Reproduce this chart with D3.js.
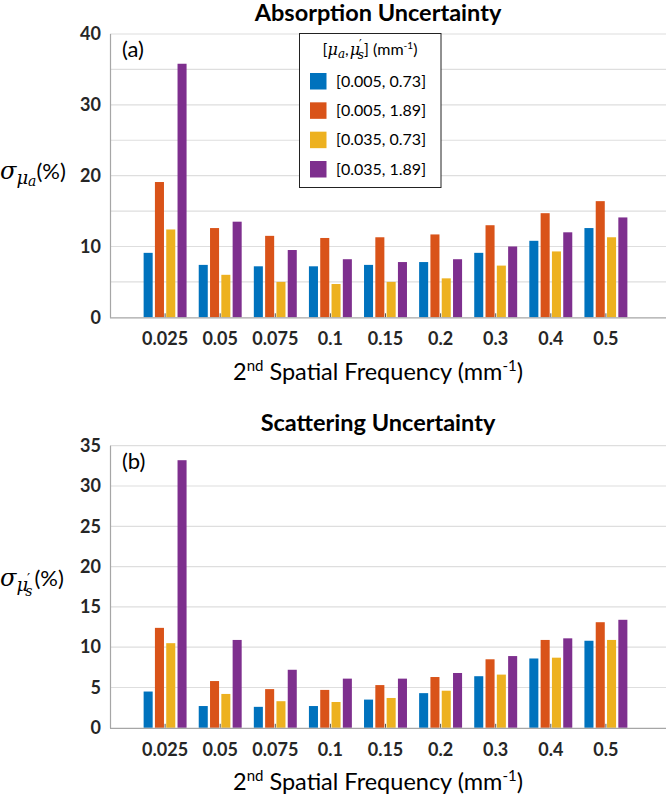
<!DOCTYPE html>
<html>
<head>
<meta charset="utf-8">
<script src="https://cdn.jsdelivr.net/npm/d3@7"></script>
<style>
  html, body { margin: 0; padding: 0; background: #fff; }
  svg { display: block; }
</style>
</head>
<body>
<svg id="chart" width="666" height="794"></svg>
<script>
// ---------- DATA ----------
const frequencies = ["0.025", "0.05", "0.075", "0.1", "0.15", "0.2", "0.3", "0.4", "0.5"];
const seriesLabels = ["[0.005, 0.73]", "[0.005, 1.89]", "[0.035, 0.73]", "[0.035, 1.89]"];
const seriesColors = ["#0072BD", "#D95319", "#EDB120", "#7E2F8E"];

// Absorption uncertainty (%)
const absorption_005_073 = [9.1, 7.4, 7.2, 7.2, 7.4, 7.8, 9.1, 10.8, 12.6];
const absorption_005_189 = [19.1, 12.6, 11.5, 11.2, 11.3, 11.7, 13.0, 14.7, 16.4];
const absorption_035_073 = [12.4, 6.0, 5.0, 4.7, 5.0, 5.5, 7.3, 9.3, 11.3];
const absorption_035_189 = [35.8, 13.5, 9.5, 8.2, 7.8, 8.2, 10.0, 12.0, 14.1];

// Scattering uncertainty (%)
const scattering_005_073 = [4.5, 2.7, 2.6, 2.7, 3.5, 4.3, 6.4, 8.6, 10.8];
const scattering_005_189 = [12.4, 5.8, 4.8, 4.7, 5.3, 6.3, 8.5, 10.9, 13.1];
const scattering_035_073 = [10.5, 4.2, 3.3, 3.2, 3.7, 4.6, 6.6, 8.7, 10.9];
const scattering_035_189 = [33.2, 10.9, 7.2, 6.1, 6.1, 6.8, 8.9, 11.1, 13.4];

const absorptionTicks = [0, 10, 20, 30, 40];
const absorptionGrid = [5, 10, 15, 20, 25, 30, 35, 40];
const scatteringTicks = [0, 5, 10, 15, 20, 25, 30, 35];
const scatteringGrid = [5, 10, 15, 20, 25, 30, 35];

// ---------- DRAW ----------
const svg = d3.select("#chart");
const SANS = "Lato, 'Open Sans', sans-serif";
const SERIF = "'DejaVu Serif', 'Liberation Serif', serif";

function rich(textSel, parts) {
  parts.forEach(p => {
    const ts = textSel.append("tspan").text(p.t);
    ts.attr("font-size", p.size).attr("font-family", p.family || SANS);
    if (p.italic) ts.attr("font-style", "italic");
    if (p.dy) ts.attr("dy", p.dy);
    if (p.dx) ts.attr("dx", p.dx);
  });
}

function drawPanel(cfg) {
  const g = svg.append("g");
  const left = 110, right = 661, gridRight = 666;
  const x = d3.scaleBand().domain(frequencies).range([left, right]).paddingInner(0).paddingOuter(0.5);
  const xs = d3.scaleBand().domain(d3.range(seriesLabels.length))
    .range([x.bandwidth() * 0.1, x.bandwidth() * 0.9]).paddingInner(0.2).paddingOuter(0.05);
  const y = d3.scaleLinear().domain([0, cfg.yMax]).range([cfg.bottom, cfg.top]);

  // gridlines
  g.append("g").selectAll("line").data(cfg.grid).join("line")
    .attr("x1", left).attr("x2", gridRight)
    .attr("y1", d => y(d)).attr("y2", d => y(d))
    .attr("stroke", "#dedede").attr("stroke-width", 1.2);

  // bottom ticks (small, inward) + labels
  const xAxis = d3.axisBottom(x).tickSize(-4).tickPadding(15);
  const xa = g.append("g").attr("transform", `translate(0,${cfg.bottom})`).call(xAxis);
  xa.select(".domain").remove();
  xa.selectAll(".tick line").attr("stroke", "#555");
  xa.selectAll(".tick text").attr("font-family", SANS).attr("font-weight", "bold")
    .attr("font-size", 18).attr("fill", "#262626");

  // bars
  cfg.series.forEach((vals, si) => {
    g.append("g").selectAll("rect").data(vals).join("rect")
      .attr("x", (d, i) => x(frequencies[i]) + xs(si))
      .attr("width", xs.bandwidth())
      .attr("y", d => y(d))
      .attr("height", d => y(0) - y(d))
      .attr("fill", seriesColors[si]);
  });

  // axes lines
  g.append("line").attr("x1", left).attr("x2", gridRight)
    .attr("y1", cfg.bottom + 0.5).attr("y2", cfg.bottom + 0.5)
    .attr("stroke", "#a6a6a6").attr("stroke-width", 1.2);
  g.append("line").attr("x1", left + 0.5).attr("x2", left + 0.5)
    .attr("y1", cfg.top).attr("y2", cfg.bottom + 0.5)
    .attr("stroke", "#a6a6a6").attr("stroke-width", 1.2);

  // y tick labels
  const yAxis = d3.axisLeft(y).tickValues(cfg.ticks).tickSize(0).tickPadding(9);
  const ya = g.append("g").attr("transform", `translate(${left},0)`).call(yAxis);
  ya.select(".domain").remove();
  ya.selectAll(".tick text").attr("font-family", SANS).attr("font-weight", "bold")
    .attr("font-size", 18).attr("fill", "#262626");

  // title
  g.append("text").attr("x", 378).attr("y", cfg.titleY).attr("text-anchor", "middle")
    .attr("font-family", SANS).attr("font-weight", "bold").attr("font-size", 23.5)
    .attr("fill", "#000").text(cfg.title);

  // panel label
  g.append("text").attr("x", 122).attr("y", cfg.top + 23)
    .attr("font-family", SANS).attr("font-size", 22).attr("fill", "#000").text(cfg.panel);

  // x label
  const xl = g.append("text").attr("x", 378).attr("y", cfg.bottom + 62.5).attr("text-anchor", "middle")
    .attr("fill", "#000");
  rich(xl, [
    {t: "2", size: 23.5},
    {t: "nd", size: 15, dy: -9},
    {t: " Spatial Frequency (mm", size: 23.5, dy: 9},
    {t: "-1", size: 15, dy: -9},
    {t: ")", size: 23.5, dy: 9}
  ]);

  // y label
  const yl = g.append("text").attr("x", 0).attr("y", cfg.yLabelY).attr("fill", "#000");
  rich(yl, cfg.yLabelParts);
}

drawPanel({
  top: 34, bottom: 317.3, yMax: 40, ticks: absorptionTicks, grid: absorptionGrid,
  series: [absorption_005_073, absorption_005_189, absorption_035_073, absorption_035_189],
  title: "Absorption Uncertainty", titleY: 20.5, panel: "(a)", yLabelY: 179,
  yLabelParts: [
    {t: "σ", size: 24, family: SERIF, italic: true},
    {t: "μ", size: 18, family: SERIF, italic: true, dy: 5},
    {t: "a", size: 14, family: SERIF, italic: true, dy: 2},
    {t: "(%)", size: 22, dy: -7}
  ]
});

drawPanel({
  top: 445.7, bottom: 727.8, yMax: 35, ticks: scatteringTicks, grid: scatteringGrid,
  series: [scattering_005_073, scattering_005_189, scattering_035_073, scattering_035_189],
  title: "Scattering Uncertainty", titleY: 431, panel: "(b)", yLabelY: 586,
  yLabelParts: [
    {t: "σ", size: 24, family: SERIF, italic: true},
    {t: "μ", size: 18, family: SERIF, italic: true, dy: 5},
    {t: "′", size: 14, family: SERIF, italic: false, dy: -7, dx: -1},
    {t: "s", size: 14, family: SERIF, italic: true, dx: -5, dy: 12},
    {t: "(%)", size: 22, dy: -10, dx: 2}
  ]
});

// legend
const lg = svg.append("g");
lg.append("rect").attr("x", 299.5).attr("y", 33.5).attr("width", 141.5).attr("height", 154)
  .attr("fill", "#fff").attr("stroke", "#222").attr("stroke-width", 1);
const lt = lg.append("text").attr("x", 370).attr("y", 55).attr("text-anchor", "middle").attr("fill", "#000");
rich(lt, [
  {t: "[", size: 16},
  {t: "μ", size: 16, family: SERIF, italic: true},
  {t: "a", size: 12, family: SERIF, italic: true, dy: 3},
  {t: ",", size: 16, dy: -3},
  {t: "μ", size: 16, family: SERIF, italic: true, dx: 1},
  {t: "′", size: 12, family: SERIF, dy: -6, dx: -1},
  {t: "s", size: 12, family: SERIF, italic: true, dx: -4, dy: 10},
  {t: "] (mm", size: 16, dy: -4},
  {t: "-1", size: 10, dy: -6},
  {t: ")", size: 16, dy: 6}
]);
const ly = d3.scalePoint().domain(seriesLabels).range([81, 169]);
const items = lg.selectAll("g.item").data(seriesLabels).join("g").attr("class", "item");
items.append("rect").attr("x", 310).attr("y", d => ly(d) - 8).attr("width", 16.5).attr("height", 16.5)
  .attr("fill", (d, i) => seriesColors[i]);
items.append("text").attr("x", 336).attr("y", d => ly(d) + 5.5)
  .attr("font-family", SANS).attr("font-size", 16).attr("fill", "#000").text(d => d);
</script>
</body>
</html>
